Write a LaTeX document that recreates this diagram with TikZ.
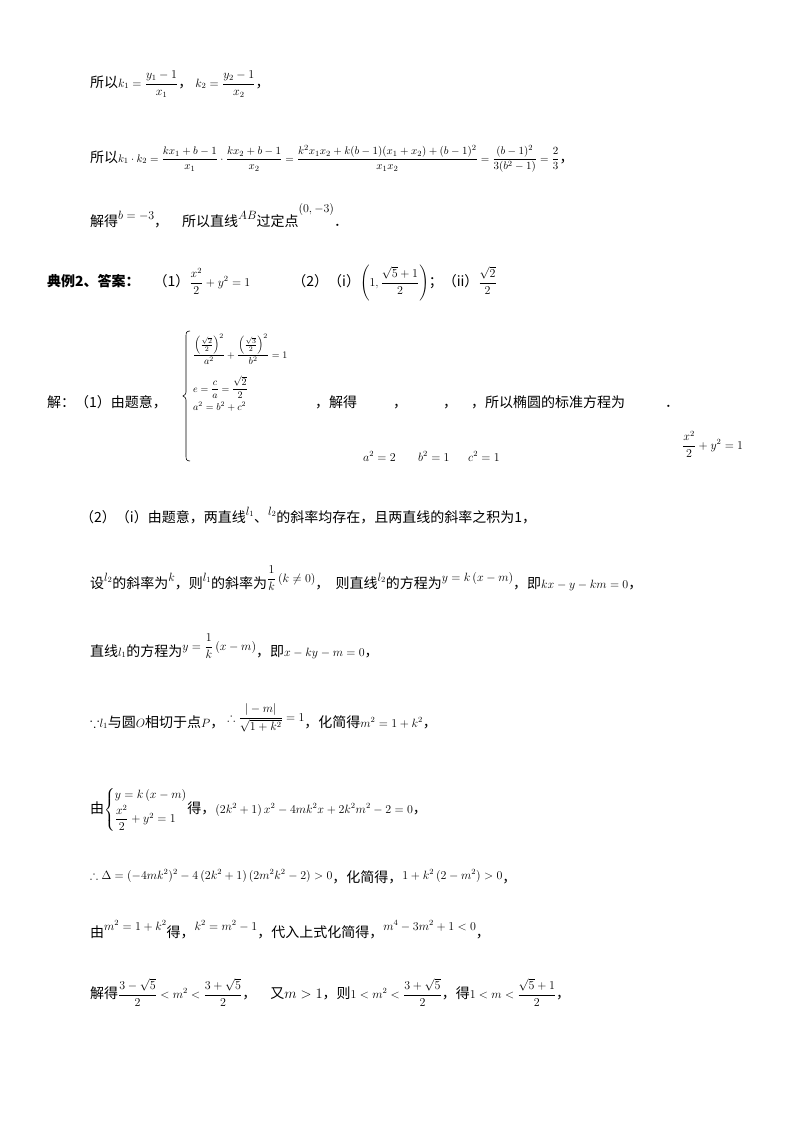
\documentclass[tikz,border=0pt]{standalone}
\usepackage{amsmath,amssymb}
\usepackage{fontspec}
\setmainfont{Noto Sans CJK SC}
\newcommand{\mm}[1]{{\fontsize{12}{14}\selectfont$#1$}}
\newcommand{\ms}[1]{{\fontsize{11}{13}\selectfont$#1$}}
\newcommand{\rmm}[1]{\raisebox{7pt}{\mm{#1}}}
\begin{document}
\begin{tikzpicture}[x=1pt,y=-1pt,txt/.style={anchor=base west,inner sep=0pt,font=\fontsize{14}{16}\selectfont}]
\useasboundingbox (0,0) rectangle (800,1132);
\node[txt] (l1) at (90,87) {所以\mm{k_1=\dfrac{y_1-1}{x_1}}，\ \mm{k_2=\dfrac{y_2-1}{x_2}}，};
\node[txt] (l2) at (90,162) {所以\ms{k_1\cdot k_2=\dfrac{kx_1+b-1}{x_1}\cdot\dfrac{kx_2+b-1}{x_2}=\dfrac{k^2x_1x_2+k(b-1)(x_1+x_2)+(b-1)^2}{x_1x_2}=\dfrac{(b-1)^2}{3(b^2-1)}=\dfrac{2}{3}}，};
\node[txt] (l3) at (90,226) {解得\rmm{b=-3}，\quad 所以直线\rmm{AB}过定点\raisebox{14pt}{\mm{(0,-3)}}．};
\node[txt] (l4) at (47,286) {\textbf{典例2、答案：}\quad （1）\mm{\dfrac{x^2}{2}+y^2=1}\qquad\quad （2）（i）\mm{\left(1,\dfrac{\sqrt5+1}{2}\right)}；（ii）\mm{\dfrac{\sqrt2}{2}}};
\node[txt] (l5) at (47,407) {解：（1）由题意，};
\draw[line width=0.6pt] (190,331) .. controls (186,331) and (186,333) .. (186,337) -- (186,390) .. controls (186,394) .. (183,396) .. controls (186,398) .. (186,402) -- (186,455) .. controls (186,459) and (186,461) .. (190,461);
\node[txt] (r1) at (193,358) {\fontsize{10}{12}\selectfont$\dfrac{\left(\frac{\sqrt2}{2}\right)^2}{a^2}+\dfrac{\left(\frac{\sqrt3}{2}\right)^2}{b^2}=1$};
\node[txt] (r2) at (193,392) {\fontsize{10}{12}\selectfont$e=\dfrac{c}{a}=\dfrac{\sqrt2}{2}$};
\node[txt] (r3) at (193,410) {\fontsize{10}{12}\selectfont$a^2=b^2+c^2$};
\node[txt] (l5b) at (315,407) {，解得\hspace{36pt}，\hspace{36pt}，\hspace{14pt}，所以椭圆的标准方程为\hspace{40pt}．};
\node[txt] (a2) at (363,461) {\mm{a^2=2}};
\node[txt] (b2) at (418,461) {\mm{b^2=1}};
\node[txt] (c2) at (468,461) {\mm{c^2=1}};
\node[txt] (ell) at (682,449) {\mm{\dfrac{x^2}{2}+y^2=1}};
\node[txt] (l6) at (80,522) {（2）（i）由题意，两直线\rmm{l_1}、\rmm{l_2}的斜率均存在，且两直线的斜率之积为1，};
\node[txt] (l7) at (90,588) {设\rmm{l_2}的斜率为\rmm{k}，则\rmm{l_1}的斜率为\raisebox{6pt}{\mm{\dfrac1k\left(k\ne0\right)}}，\ \ 则直线\rmm{l_2}的方程为\rmm{y=k\left(x-m\right)}，即\mm{kx-y-km=0}，};
\node[txt] (l8) at (90,656) {直线\mm{l_1}的方程为\raisebox{6pt}{\mm{y=\dfrac1k\left(x-m\right)}}，即\mm{x-ky-m=0}，};
\node[txt] (l9) at (90,727) {$\because$\mm{l_1}与圆\mm{O}相切于点\mm{P}，\ \raisebox{6pt}{\mm{\therefore\dfrac{|-m|}{\sqrt{1+k^2}}=1}}，化简得\mm{m^2=1+k^2}，};
\node[txt] (l10) at (90,813) {由\mm{\left\{\begin{array}{@{}l@{}}y=k\left(x-m\right)\\[2pt]\dfrac{x^2}{2}+y^2=1\end{array}\right.}得，\mm{\left(2k^2+1\right)x^2-4mk^2x+2k^2m^2-2=0}，};
\node[txt] (l11) at (90,882) {\raisebox{3pt}{\mm{\therefore\Delta=(-4mk^2)^2-4\left(2k^2+1\right)\left(2m^2k^2-2\right)>0}}，化简得，\raisebox{3pt}{\mm{1+k^2\left(2-m^2\right)>0}}，};
\node[txt] (l12) at (90,937) {由\rmm{m^2=1+k^2}得，\rmm{k^2=m^2-1}，代入上式化简得，\rmm{m^4-3m^2+1<0}，};
\node[txt] (l13) at (90,998) {解得\mm{\dfrac{3-\sqrt5}{2}<m^2<\dfrac{3+\sqrt5}{2}}，\quad 又$m>1$，则\mm{1<m^2<\dfrac{3+\sqrt5}{2}}，得\mm{1<m<\dfrac{\sqrt5+1}{2}}，};
\end{tikzpicture}
\end{document}
